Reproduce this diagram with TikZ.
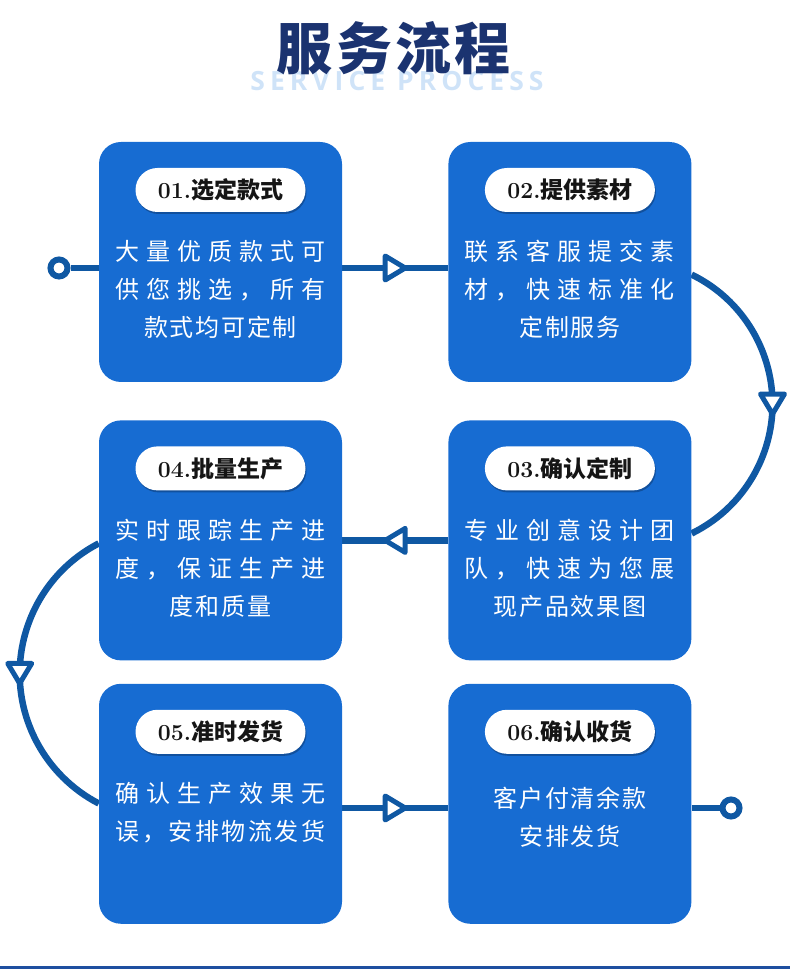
\documentclass[tikz,border=0pt]{standalone}
\usepackage{fontspec}
\usetikzlibrary{positioning,calc,shadows,backgrounds,decorations.markings}
\newfontfamily\cjk{Noto Sans CJK SC}
\newfontfamily\titlefont{Noto Sans CJK SC}[LetterSpace=6]
\newfontfamily\notefont{Noto Sans CJK SC}[LetterSpace=7]
\newfontfamily\subfont{Open Sans}[LetterSpace=19]
\definecolor{cardblue}{HTML}{176CD2}
\definecolor{flowblue}{HTML}{0F58A3}
\definecolor{titlenavy}{HTML}{1B3370}
\definecolor{subblue}{HTML}{CFE3F8}
\definecolor{baseblue}{HTML}{1E4FA0}
\definecolor{tagink}{HTML}{151515}

% spread one line of CJK text over the card width
\makeatletter
\newcommand\spreadline[1]{\makebox[210pt][s]{\spr@first#1\relax}}
\def\spr@first#1{#1\spr@rest}
\def\spr@rest#1{\ifx\relax#1\else\hfil#1\expandafter\spr@rest\fi}
\makeatother

\tikzset{
  stepcard/.style={fill=cardblue, rounded corners=22pt, minimum width=243pt, minimum height=240pt, inner sep=0pt},
  steptag/.style={fill=white, rounded corners=22pt, minimum width=170pt, minimum height=44pt, inner sep=0pt,
    text=tagink, font=\fontsize{23}{26}\selectfont,
    drop shadow={shadow xshift=1pt, shadow yshift=-2pt, fill=black, opacity=0.25}},
  stepnote/.style={text=white, font=\notefont\fontsize{24}{38}\selectfont, align=center, inner sep=0pt},
  flow/.style={draw=flowblue, line width=6.5pt},
  flowmark/.style={postaction=decorate, decoration={markings, mark=at position 0.5 with
    {\filldraw[draw=flowblue, fill=white, line width=5pt, line join=round]
      (-10pt,12pt) -- (10pt,0pt) -- (-10pt,-12pt) -- cycle;}}},
  endring/.style={circle, draw=flowblue, fill=white, line width=6pt, minimum size=17pt, inner sep=0pt}
}

\begin{document}
\begin{tikzpicture}[x=1pt, y=1pt]
  \useasboundingbox (0,0) rectangle (790,969);

  % Title
  \node[font=\subfont\bfseries\fontsize{26.5}{30}\selectfont, text=subblue] (sub) at (397,888) {SERVICE PROCESS};
  \node[font=\titlefont\bfseries\fontsize{56}{60}\selectfont, text=titlenavy] (title) at (394,921) {服务流程};

  % Cards
  \node[stepcard] (c1) at (220.5,707) {};
  \node[stepcard, right=106pt of c1] (c2) {};
  \node[stepcard, below=38pt of c2] (c3) {};
  \node[stepcard, left=106pt of c3] (c4) {};
  \node[stepcard, below=23pt of c4] (c5) {};
  \node[stepcard, right=106pt of c5] (c6) {};

  % Tags
  \node[steptag, below=26pt of c1.north] (t1) {{\bfseries 01.}{\cjk\bfseries 选定款式}};
  \node[steptag, below=26pt of c2.north] (t2) {{\bfseries 02.}{\cjk\bfseries 提供素材}};
  \node[steptag, below=26pt of c3.north] (t3) {{\bfseries 03.}{\cjk\bfseries 确认定制}};
  \node[steptag, below=26pt of c4.north] (t4) {{\bfseries 04.}{\cjk\bfseries 批量生产}};
  \node[steptag, below=26pt of c5.north] (t5) {{\bfseries 05.}{\cjk\bfseries 准时发货}};
  \node[steptag, below=26pt of c6.north] (t6) {{\bfseries 06.}{\cjk\bfseries 确认收货}};

  % Notes
  \node[stepnote, below=28pt of t1] (n1) {\spreadline{大量优质款式可}\\\spreadline{供您挑选，所有}\\款式均可定制};
  \node[stepnote, below=28pt of t2] (n2) {\spreadline{联系客服提交素}\\\spreadline{材，快速标准化}\\定制服务};
  \node[stepnote, below=28pt of t3] (n3) {\spreadline{专业创意设计团}\\\spreadline{队，快速为您展}\\现产品效果图};
  \node[stepnote, below=28pt of t4] (n4) {\spreadline{实时跟踪生产进}\\\spreadline{度，保证生产进}\\度和质量};
  \node[stepnote, below=28pt of t5] (n5) {\spreadline{确认生产效果无}\\\spreadline{误，安排物流发货}};
  \node[stepnote, below=33pt of t6] (n6) {客户付清余款\\安排发货};

  % Flow
  \node[endring] (start) at (59,701) {};
  \node[endring] (finish) at (731,161) {};
  \begin{scope}[on background layer]
    \draw[flow] (start) -- (c1.west |- start);
    \draw[flow, flowmark] (c1.east |- start) -- (c2.west |- start);
    \draw[flow, flowmark] ($(c2.east)+(0,-12.6)$) arc[start angle=64, end angle=-64, radius=144];
    \draw[flow, flowmark] (c3.west) -- (c4.east);
    \draw[flow, flowmark] ($(c4.west)+(0,-3)$) arc[start angle=117.4, end angle=242.6, radius=146.5];
    \draw[flow, flowmark] (c5.east |- finish) -- (c6.west |- finish);
    \draw[flow] (c6.east |- finish) -- (finish);
  \end{scope}

  % Base line
  \fill[baseblue] (0,0) rectangle (790,3);
\end{tikzpicture}
\end{document}
